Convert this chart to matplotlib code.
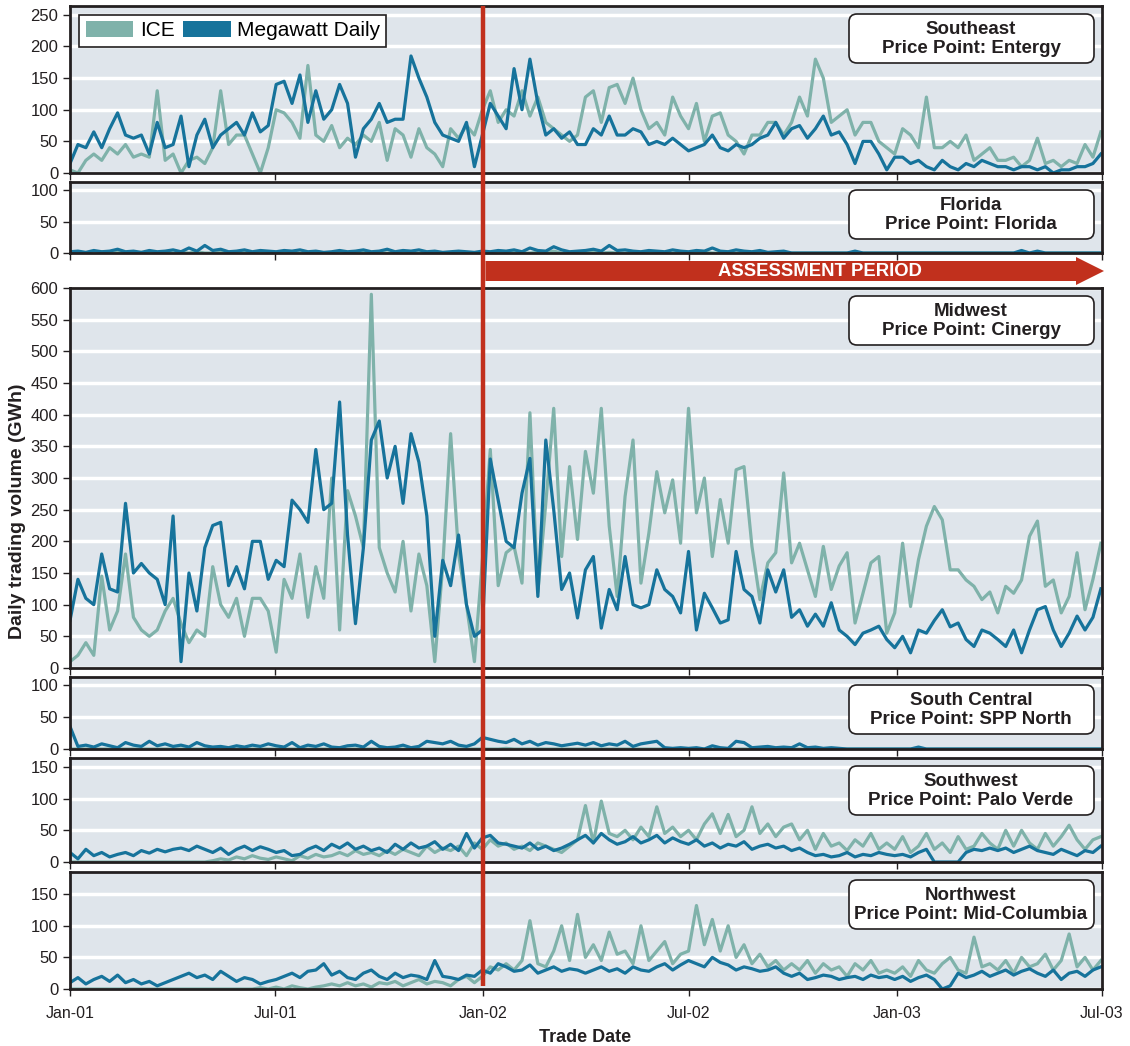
import numpy as np
import pandas as pd
import matplotlib
matplotlib.use('Agg')
import matplotlib.pyplot as plt
import matplotlib.dates as mdates
import matplotlib.transforms as mtransforms
from matplotlib.patches import Patch, FancyBboxPatch, Polygon
from matplotlib.lines import Line2D

plt.rcParams['font.family'] = ['Liberation Sans', 'DejaVu Sans']

# weekly readings (GWh), first week of Jan-01 to end of Jun-03
dates = pd.date_range('2001-01-01', periods=131, freq='7D')

se_ice = [5, 0, 20, 30, 20, 40, 30, 45, 25, 30, 25, 130, 20,
          30, 0, 20, 25, 15, 40, 130, 45, 60, 60, 30, 0, 40,
          100, 95, 80, 55, 170, 60, 50, 75, 40, 55, 45, 60, 50,
          80, 20, 70, 60, 25, 70, 40, 30, 10, 70, 55, 75, 60,
          100, 130, 80, 100, 90, 130, 90, 120, 80, 70, 60, 50, 60,
          120, 130, 80, 135, 140, 110, 150, 100, 70, 80, 60, 120, 90,
          70, 110, 50, 90, 95, 60, 50, 30, 60, 60, 80, 80, 60,
          80, 120, 90, 180, 150, 80, 90, 100, 60, 80, 80, 50, 40,
          30, 70, 60, 40, 120, 40, 40, 50, 40, 60, 20, 30, 40,
          20, 20, 25, 10, 20, 55, 15, 20, 10, 20, 15, 45, 25,
          65]
se_mwd = [15, 45, 40, 65, 40, 70, 95, 60, 55, 60, 30, 80, 40,
          45, 90, 10, 60, 85, 40, 60, 70, 80, 60, 95, 65, 75,
          140, 145, 110, 155, 80, 130, 85, 100, 140, 110, 25, 70, 85,
          110, 80, 85, 85, 185, 150, 120, 80, 60, 55, 50, 80, 10,
          60, 110, 90, 70, 165, 100, 180, 110, 60, 70, 55, 65, 45,
          45, 70, 60, 90, 60, 60, 70, 65, 45, 50, 45, 55, 45,
          35, 40, 45, 60, 40, 35, 45, 40, 45, 55, 60, 80, 55,
          70, 75, 55, 70, 90, 60, 65, 45, 15, 50, 50, 30, 5,
          25, 25, 15, 20, 10, 5, 20, 10, 5, 15, 10, 20, 15,
          10, 10, 5, 10, 10, 5, 10, 0, 5, 5, 10, 10, 15,
          30]

fl_ice = [0, 1, 0, 0, 2, 0, 1, 0, 0, 1, 0, 0, 2,
          0, 1, 0, 2, 0, 0, 1, 0, 0, 2, 0, 1, 0,
          0, 0, 1, 0, 0, 2, 0, 0, 1, 0, 0, 1, 0,
          1, 0, 0, 2, 0, 0, 1, 0, 0, 0, 1, 0, 0,
          0, 1, 0, 0, 2, 0, 0, 1, 0, 3, 0, 0, 1,
          0, 2, 0, 1, 0, 0, 1, 0, 0, 2, 0, 0, 1,
          0, 0, 1, 0, 0, 2, 0, 0, 1, 0, 0, 0, 1,
          0, 0, 0, 0, 0, 0, 0, 0, 1, 0, 0, 0, 0,
          0, 0, 0, 0, 0, 0, 0, 0, 0, 0, 0, 0, 0,
          0, 0, 0, 1, 0, 0, 0, 0, 0, 0, 0, 0, 0,
          0]
fl_mwd = [2, 3, 1, 4, 2, 3, 6, 2, 3, 1, 4, 2, 3,
          5, 2, 8, 3, 12, 4, 6, 2, 3, 5, 2, 4, 3,
          2, 4, 3, 5, 2, 3, 1, 2, 4, 2, 3, 5, 2,
          3, 6, 2, 4, 3, 5, 2, 3, 1, 2, 3, 2, 1,
          3, 2, 4, 3, 5, 2, 8, 4, 3, 10, 5, 2, 3,
          4, 6, 3, 12, 4, 5, 3, 2, 4, 3, 2, 5, 3,
          2, 4, 3, 8, 3, 2, 5, 3, 2, 4, 1, 2, 3,
          0, 0, 0, 0, 0, 0, 0, 0, 3, 0, 0, 0, 0,
          0, 0, 0, 0, 0, 0, 0, 0, 0, 0, 0, 0, 0,
          0, 0, 0, 4, 0, 3, 0, 0, 0, 0, 0, 0, 0,
          0]

mw_ice = [10, 20, 40, 20, 145, 60, 90, 180, 80, 60, 50, 60, 90,
          110, 70, 40, 60, 50, 160, 100, 80, 110, 50, 110, 110, 90,
          25, 140, 110, 180, 80, 160, 110, 300, 60, 280, 240, 190, 590,
          190, 150, 120, 200, 90, 180, 130, 10, 160, 370, 180, 100, 10,
          170, 345, 130, 182, 192, 134, 403, 120, 260, 410, 176, 318, 203,
          342, 276, 410, 224, 113, 271, 360, 134, 213, 310, 245, 297, 197,
          410, 245, 300, 176, 266, 197, 313, 318, 192, 108, 166, 182, 308,
          166, 197, 155, 113, 192, 124, 161, 182, 71, 118, 166, 176, 55,
          87, 197, 97, 171, 224, 255, 234, 155, 155, 139, 129, 108, 120,
          87, 129, 118, 139, 208, 232, 129, 139, 87, 113, 182, 92, 140,
          197]
mw_mwd = [75, 140, 110, 100, 180, 125, 120, 260, 150, 165, 150, 140, 100,
          240, 10, 150, 90, 190, 225, 230, 130, 160, 125, 200, 200, 140,
          170, 160, 265, 250, 230, 345, 250, 260, 420, 210, 70, 190, 360,
          390, 300, 350, 260, 370, 325, 240, 50, 170, 130, 210, 100, 50,
          60, 330, 265, 200, 190, 276, 331, 113, 360, 250, 124, 150, 79,
          155, 176, 63, 124, 92, 176, 100, 95, 100, 155, 124, 113, 87,
          184, 60, 118, 95, 71, 76, 184, 124, 113, 71, 155, 120, 155,
          80, 92, 66, 85, 66, 103, 60, 50, 37, 55, 60, 66, 45,
          32, 50, 24, 60, 55, 75, 92, 65, 71, 45, 34, 60, 55,
          45, 34, 60, 24, 60, 92, 97, 60, 34, 55, 82, 60, 80,
          125]

sc_ice = [0, 0, 0, 0, 0, 0, 0, 0, 0, 0, 0, 0, 0,
          0, 0, 0, 0, 0, 0, 0, 0, 0, 0, 0, 0, 0,
          0, 0, 0, 0, 0, 0, 0, 0, 0, 0, 0, 0, 0,
          0, 0, 0, 0, 0, 0, 0, 0, 0, 0, 0, 0, 0,
          0, 0, 0, 1, 0, 0, 0, 0, 0, 0, 0, 0, 0,
          0, 0, 0, 0, 0, 0, 0, 0, 0, 0, 0, 0, 0,
          0, 0, 0, 0, 0, 0, 0, 0, 0, 0, 0, 0, 0,
          0, 0, 0, 0, 0, 0, 0, 0, 0, 0, 0, 0, 0,
          0, 0, 0, 0, 0, 0, 0, 0, 0, 0, 0, 0, 0,
          0, 0, 0, 0, 0, 0, 0, 0, 0, 0, 0, 0, 0,
          0]
sc_mwd = [35, 4, 6, 3, 8, 5, 2, 10, 6, 4, 12, 5, 8,
          4, 6, 3, 10, 5, 3, 4, 2, 5, 3, 6, 4, 8,
          5, 3, 10, 2, 6, 4, 8, 3, 2, 5, 6, 3, 12,
          4, 2, 3, 6, 2, 4, 12, 10, 8, 12, 6, 4, 8,
          18, 15, 12, 10, 15, 8, 12, 6, 10, 8, 5, 7, 9,
          6, 10, 5, 8, 6, 12, 4, 8, 10, 12, 2, 1, 2,
          1, 2, 0, 5, 2, 1, 12, 10, 2, 3, 4, 2, 3,
          2, 8, 2, 3, 1, 2, 1, 0, 0, 0, 0, 0, 0,
          0, 0, 0, 3, 0, 0, 0, 0, 0, 0, 0, 0, 0,
          0, 0, 0, 0, 0, 0, 0, 0, 0, 0, 0, 0, 0,
          0]

sw_ice = [0, 0, 0, 0, 0, 0, 0, 0, 0, 0, 0, 0, 0,
          0, 0, 0, 0, 0, 2, 5, 3, 8, 5, 10, 6, 4,
          8, 5, 2, 10, 6, 12, 8, 10, 15, 10, 18, 12, 15,
          10, 18, 12, 20, 15, 10, 25, 15, 22, 18, 25, 10, 30,
          20, 35, 25, 30, 20, 25, 18, 30, 25, 20, 15, 25, 35,
          89, 30, 96, 45, 40, 50, 35, 55, 40, 87, 45, 55, 40,
          50, 35, 60, 76, 45, 75, 40, 50, 87, 45, 60, 40, 55,
          60, 35, 50, 20, 45, 25, 30, 18, 35, 25, 45, 20, 30,
          20, 40, 15, 25, 45, 20, 30, 15, 40, 20, 25, 45, 30,
          20, 50, 25, 50, 30, 20, 45, 25, 40, 58, 35, 20, 35,
          40]
sw_mwd = [15, 5, 20, 10, 15, 8, 12, 15, 10, 18, 14, 20, 16,
          20, 22, 18, 25, 20, 15, 22, 12, 20, 25, 18, 24, 20,
          15, 18, 10, 12, 20, 25, 18, 28, 22, 30, 20, 25, 18,
          22, 15, 28, 20, 30, 22, 25, 32, 20, 28, 18, 45, 22,
          38, 42, 30, 28, 25, 22, 30, 20, 25, 18, 22, 28, 35,
          42, 30, 45, 35, 28, 32, 40, 30, 35, 42, 30, 38, 32,
          28, 35, 25, 30, 22, 28, 25, 32, 20, 25, 28, 22, 25,
          18, 22, 15, 10, 12, 8, 10, 15, 8, 12, 10, 15, 12,
          10, 12, 8, 15, 20, 0, 0, 0, 0, 15, 20, 18, 22,
          18, 22, 15, 20, 25, 18, 15, 12, 20, 15, 10, 18, 15,
          25]

nw_ice = [0, 0, 0, 0, 0, 0, 0, 0, 0, 0, 0, 0, 0,
          0, 0, 0, 0, 0, 0, 0, 0, 0, 0, 0, 2, 0,
          3, 0, 5, 2, 0, 3, 5, 8, 5, 10, 5, 8, 3,
          10, 8, 12, 5, 10, 15, 8, 12, 10, 5, 15, 20, 10,
          20, 35, 30, 40, 30, 45, 108, 40, 35, 60, 100, 45, 118,
          50, 70, 45, 90, 55, 60, 40, 100, 45, 60, 75, 40, 55,
          60, 132, 70, 110, 60, 100, 50, 70, 40, 55, 35, 45, 30,
          40, 30, 45, 25, 40, 30, 35, 20, 40, 30, 45, 25, 30,
          25, 35, 20, 45, 30, 25, 40, 50, 30, 25, 82, 35, 40,
          30, 45, 25, 50, 35, 40, 55, 30, 45, 87, 35, 50, 30,
          45]
nw_mwd = [10, 18, 8, 15, 20, 12, 22, 10, 15, 8, 12, 5, 10,
          15, 20, 25, 18, 22, 15, 28, 20, 12, 18, 15, 8, 12,
          15, 20, 25, 18, 28, 30, 40, 22, 28, 18, 15, 25, 30,
          20, 15, 25, 18, 22, 20, 15, 45, 20, 18, 15, 22, 20,
          30, 25, 40, 35, 28, 30, 38, 25, 30, 35, 28, 32, 30,
          25, 30, 35, 28, 32, 25, 35, 30, 28, 35, 40, 30, 38,
          45, 40, 35, 50, 42, 38, 30, 35, 32, 28, 30, 35, 25,
          20, 25, 15, 18, 22, 20, 15, 18, 20, 15, 22, 18, 20,
          15, 20, 12, 18, 22, 15, 0, 5, 25, 18, 22, 28, 20,
          25, 30, 22, 28, 32, 25, 20, 30, 15, 25, 28, 20, 30,
          35]

tick_dates = pd.to_datetime(['2001-01-01', '2001-07-01', '2002-01-01',
                             '2002-07-01', '2003-01-01', '2003-07-01'])
tick_labels = ['Jan-01', 'Jul-01', 'Jan-02', 'Jul-02', 'Jan-03', 'Jul-03']
assessment_start = pd.Timestamp('2002-01-01')

ICE_C = '#7fb2aa'
MWD_C = '#16739b'
RED = '#c1301d'
BG = '#dfe5eb'
DARK = '#231f20'

W, H = 1130, 1046
fig = plt.figure(figsize=(W / 100, H / 100), dpi=100)

# (top px, bottom px, ymax, yticks, ice, mwd, region, price point)
panels = [
    (6, 173, 264, range(0, 251, 50), se_ice, se_mwd, 'Southeast', 'Entergy'),
    (182, 253, 113, [0, 50, 100], fl_ice, fl_mwd, 'Florida', 'Florida'),
    (288, 668, 600, range(0, 601, 50), mw_ice, mw_mwd, 'Midwest', 'Cinergy'),
    (677, 749, 112, [0, 50, 100], sc_ice, sc_mwd, 'South Central', 'SPP North'),
    (758, 862, 164, [0, 50, 100, 150], sw_ice, sw_mwd, 'Southwest', 'Palo Verde'),
    (872, 989, 185, [0, 50, 100, 150], nw_ice, nw_mwd, 'Northwest', 'Mid-Columbia'),
]

axes = []
for i, (top, bot, ymax, yt, ice, mwd, region, point) in enumerate(panels):
    ax = fig.add_axes([70 / W, 1 - bot / H, 1032 / W, (bot - top) / H])
    ax.set_facecolor(BG)
    ax.plot(dates, ice, color=ICE_C, lw=2.3)
    ax.plot(dates, mwd, color=MWD_C, lw=2.3)
    ax.set_xlim(pd.Timestamp('2001-01-01'), pd.Timestamp('2003-07-01'))
    ax.set_ylim(0, ymax)
    ax.set_yticks(list(yt))
    ax.grid(axis='y', color='white', lw=2.5)
    ax.set_axisbelow(True)
    for s in ax.spines.values():
        s.set_color(DARK)
        s.set_linewidth(2)
    ax.set_xticks(tick_dates)
    if i == len(panels) - 1:
        ax.set_xticklabels(tick_labels)
    else:
        ax.set_xticklabels([])
    ax.tick_params(axis='both', direction='out', length=5, width=1,
                   colors=DARK, labelsize=12)
    ax.tick_params(axis='x', pad=7, labelsize=11.5)
    axes.append(ax)

# legend in the top panel
handles = [Patch(facecolor=ICE_C, edgecolor='none', label='ICE'),
           Patch(facecolor=MWD_C, edgecolor='none', label='Megawatt Daily')]
leg = axes[0].legend(handles=handles, loc='upper left', ncol=2,
                     bbox_to_anchor=(0.009, 0.946), borderaxespad=0,
                     fontsize=15, handlelength=2.3, handleheight=0.75,
                     handletextpad=0.3, columnspacing=0.4, borderpad=0.3,
                     fancybox=False, framealpha=1, edgecolor=DARK)
leg.get_frame().set_linewidth(1.2)

# overlay in pixel coordinates for annotations
ov = fig.add_axes([0, 0, 1, 1], zorder=10)
ov.set_xlim(0, W)
ov.set_ylim(H, 0)
ov.axis('off')
ov.patch.set_alpha(0)

for (top, bot, ymax, yt, ice, mwd, region, point) in panels:
    bt = top + 8
    box = FancyBboxPatch((849, bt), 245, 49,
                         boxstyle='round,pad=0,rounding_size=8',
                         fc='white', ec=DARK, lw=1.2)
    ov.add_patch(box)
    ov.text(971, bt + 25, f'{region}\nPrice Point: {point}', ha='center',
            va='center', fontsize=13.5, fontweight='bold',
            color=DARK, linespacing=1.15)

# assessment start line
start_num = mdates.date2num(assessment_start)
trans = mtransforms.blended_transform_factory(axes[0].transData, ov.transData)
ov.add_line(Line2D([start_num, start_num], [6, 986], color=RED, lw=3.2,
                   transform=trans, solid_capstyle='butt'))

x_disp = axes[0].transData.transform((start_num, 0))[0]
x0 = ov.transData.inverted().transform((x_disp, 0))[0] + 2
arrow = Polygon([(x0, 261), (1076, 261), (1076, 257), (1104, 271),
                 (1076, 285), (1076, 281), (x0, 281)],
                closed=True, fc=RED, ec='none')
ov.add_patch(arrow)
ov.text(820, 271.5, 'ASSESSMENT PERIOD', ha='center', va='center',
        color='white', fontsize=13.3, fontweight='bold')

fig.text(18 / W, 1 - 511 / H, 'Daily trading volume (GWh)', rotation=90,
         ha='center', va='center', fontsize=14, fontweight='bold', color=DARK)
fig.text(585 / W, 1 - 1037 / H, 'Trade Date', ha='center', va='center',
         fontsize=13, fontweight='bold', color=DARK)

fig.savefig('out.png', dpi=100)
